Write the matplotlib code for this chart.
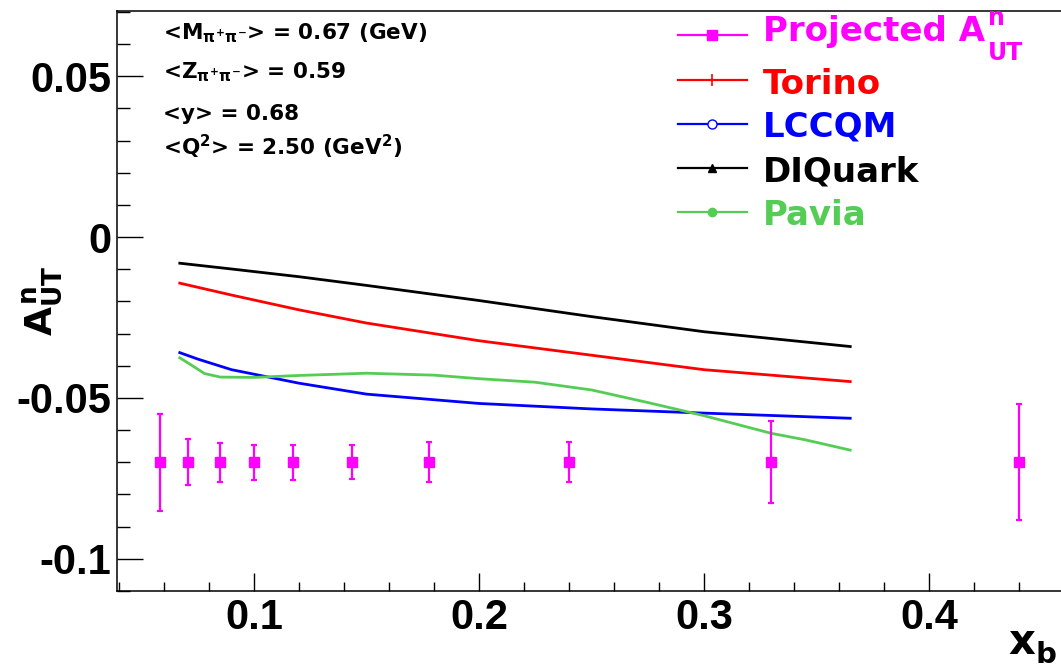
import matplotlib
matplotlib.use("Agg")
import matplotlib.pyplot as plt
from matplotlib.lines import Line2D
from matplotlib.ticker import MultipleLocator, FuncFormatter

# ---- projected A_UT^n points ----
xb_proj = [0.058, 0.0705, 0.085, 0.100, 0.1175, 0.1435, 0.178, 0.240, 0.330, 0.440]
aut_proj = [-0.07, -0.07, -0.07, -0.07, -0.07, -0.07, -0.07, -0.07, -0.07, -0.07]
aut_err = [0.0150, 0.0071, 0.0060, 0.0055, 0.0055, 0.0053, 0.0062, 0.0062, 0.0127, 0.0180]

# ---- model curves ----
x_model = [0.067, 0.09, 0.12, 0.15, 0.2, 0.25, 0.3, 0.365]
aut_torino = [-0.0143, -0.0180, -0.0226, -0.0267, -0.0322, -0.0367, -0.0412, -0.0449]
aut_diquark = [-0.0081, -0.0099, -0.0123, -0.0150, -0.0197, -0.0247, -0.0294, -0.0340]

x_lccqm = [0.067, 0.075, 0.09, 0.12, 0.15, 0.2, 0.25, 0.3, 0.365]
aut_lccqm = [-0.0359, -0.0379, -0.0412, -0.0454, -0.0488, -0.0517, -0.0534, -0.0547, -0.0563]

x_pavia = [0.067, 0.072, 0.078, 0.085, 0.1, 0.12, 0.15, 0.18, 0.2, 0.225,
           0.25, 0.275, 0.3, 0.33, 0.345, 0.365]
aut_pavia = [-0.0375, -0.0397, -0.0424, -0.0435, -0.0436, -0.0430, -0.0423, -0.0429,
             -0.0440, -0.0451, -0.0475, -0.0514, -0.0555, -0.0610, -0.0630, -0.0662]

legend_labels = ["Projected A", "Torino", "LCCQM", "DIQuark", "Pavia"]
kinematics = [r"<M$_{\pi^{+}\pi^{-}}$> = 0.67 (GeV)",
              r"<Z$_{\pi^{+}\pi^{-}}$> = 0.59",
              "<y> = 0.68",
              r"<Q$^{2}$> = 2.50 (GeV$^{2}$)"]

MAGENTA = "#ff00ff"
RED = "#ff0000"
BLUE = "#0000ff"
BLACK = "#000000"
GREEN = "#55cd55"

plt.rcParams["font.family"] = ["Liberation Sans", "DejaVu Sans"]
plt.rcParams["font.weight"] = "bold"
plt.rcParams["axes.unicode_minus"] = False
plt.rcParams["mathtext.fontset"] = "custom"
plt.rcParams["mathtext.rm"] = "DejaVu Sans:bold"
plt.rcParams["mathtext.it"] = "DejaVu Sans:bold"
plt.rcParams["mathtext.bf"] = "DejaVu Sans:bold"
plt.rcParams["mathtext.sf"] = "DejaVu Sans:bold"

W, H = 1061, 669
fig = plt.figure(figsize=(W / 100, H / 100), dpi=100)
fig.patch.set_facecolor("white")


def fx(px):
    return px / W


def fy(py):
    return 1 - py / H


ax = fig.add_axes([fx(117), fy(591), 1 - fx(117), (591 - 11) / H])
ax.set_xlim(0.0391, 0.4587)
ax.set_ylim(-0.110, 0.0703)

ax.plot(x_model, aut_diquark, color=BLACK, lw=2)
ax.plot(x_model, aut_torino, color=RED, lw=2)
ax.plot(x_lccqm, aut_lccqm, color=BLUE, lw=2)
ax.plot(x_pavia, aut_pavia, color=GREEN, lw=2)
ax.errorbar(xb_proj, aut_proj, yerr=aut_err, fmt="s", color=MAGENTA, ms=7.8,
            elinewidth=1.6, capsize=2.2, capthick=1.6, zorder=5)

ax.spines["right"].set_visible(False)
for s in ("left", "bottom", "top"):
    ax.spines[s].set_linewidth(1.1)

ax.xaxis.set_major_locator(MultipleLocator(0.1))
ax.xaxis.set_minor_locator(MultipleLocator(0.02))
ax.yaxis.set_major_locator(MultipleLocator(0.05))
ax.yaxis.set_minor_locator(MultipleLocator(0.01))


def fmt(v, pos):
    if abs(v) < 1e-9:
        return "0"
    return "%g" % round(v, 4)


ax.xaxis.set_major_formatter(FuncFormatter(fmt))
ax.yaxis.set_major_formatter(FuncFormatter(fmt))
ax.tick_params(axis="both", which="both", direction="in", top=False, right=False,
               width=1, labelsize=30)
ax.tick_params(axis="y", which="major", length=18.5, pad=4)
ax.tick_params(axis="y", which="minor", length=9.3)
ax.tick_params(axis="x", which="major", length=13, pad=5)
ax.tick_params(axis="x", which="minor", length=6.5)
for lbl in ax.get_xticklabels() + ax.get_yticklabels():
    lbl.set_fontweight("bold")

renderer = fig.canvas.get_renderer()

# x-axis title with a lowered subscript
xt = fig.text(fx(1008), fy(654), "x", fontsize=30, family="DejaVu Sans",
              fontweight="bold", ha="left", va="baseline")
xe = xt.get_window_extent(renderer)
fig.text(xe.x1 / W + fx(1), fy(663), "b", fontsize=21, family="DejaVu Sans",
         fontweight="bold", ha="left", va="baseline")

# y-axis title
fig.text(fx(42), fy(301), r"$A^{n}_{UT}$", fontsize=27, rotation=90,
         ha="center", va="center")

# kinematic averages
kin_baselines = [39, 78, 120.5, 155]
for txt, b in zip(kinematics, kin_baselines):
    fig.text(fx(163), fy(b), txt, fontsize=15.5, family="DejaVu Sans",
             fontweight="bold", ha="left", va="baseline")

# legend
leg_colors = [MAGENTA, RED, BLUE, BLACK, GREEN]
leg_markers = [dict(marker="s", ms=7.5, mfc=MAGENTA, mec=MAGENTA),
               dict(marker="|", ms=9, mew=1.2, mec=RED),
               dict(marker="o", ms=6.5, mfc="white", mec=BLUE, mew=1),
               dict(marker="^", ms=6, mfc=BLACK, mec=BLACK),
               dict(marker="o", ms=6, mfc=GREEN, mec=GREEN)]
leg_line_y = [35, 80, 124, 168, 212]
leg_base_y = [41, 93.5, 136.5, 181.5, 225]
leg_texts = []
for lab, col, mk, ly, by in zip(legend_labels, leg_colors, leg_markers, leg_line_y, leg_base_y):
    fig.add_artist(Line2D([fx(678), fx(712), fx(747)], [fy(ly)] * 3,
                          transform=fig.transFigure, color=col, lw=1.6,
                          markevery=[1], **mk))
    leg_texts.append(fig.text(fx(763), fy(by), lab, color=col, fontsize=24.5,
                              family="DejaVu Sans", fontweight="bold",
                              ha="left", va="baseline"))

# superscript / subscript on the first legend entry
pe = leg_texts[0].get_window_extent(renderer)
fig.text(pe.x1 / W + fx(3), fy(25), "n", color=MAGENTA, fontsize=17,
         family="DejaVu Sans", fontweight="bold", ha="left", va="baseline")
fig.text(pe.x1 / W + fx(3), fy(60), "UT", color=MAGENTA, fontsize=17,
         family="DejaVu Sans", fontweight="bold", ha="left", va="baseline")

fig.savefig("out.png", dpi=100, facecolor="white")
